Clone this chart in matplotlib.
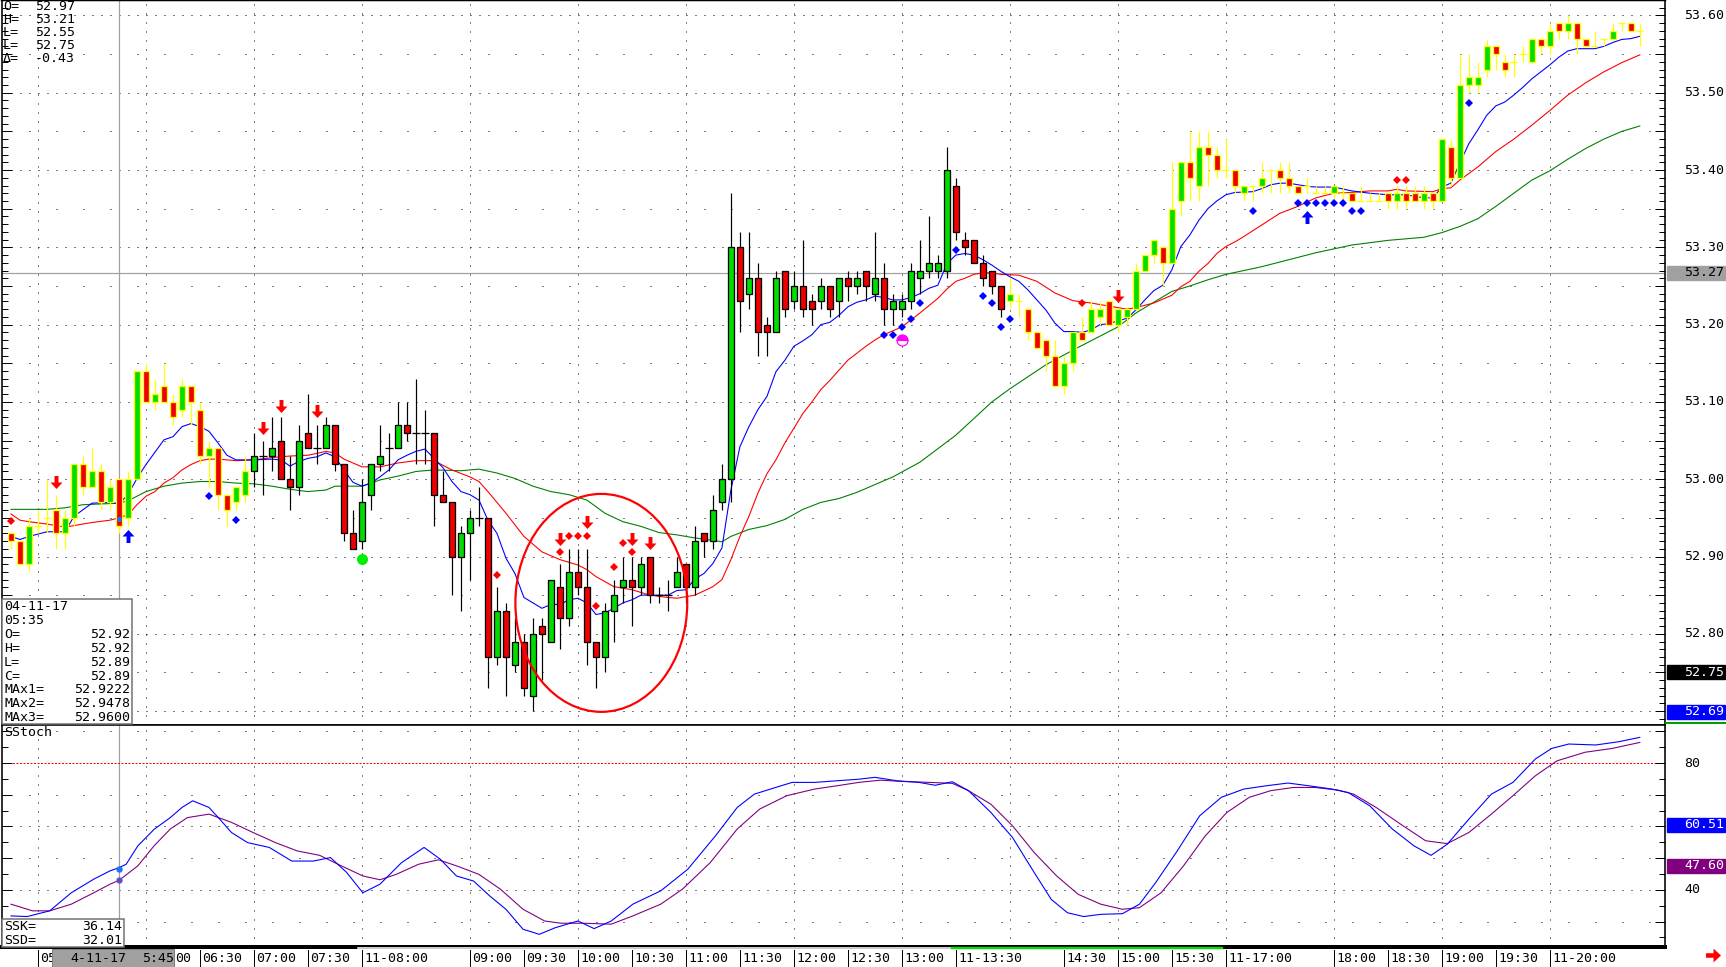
import matplotlib
matplotlib.use("Agg")
import matplotlib.pyplot as plt
import numpy as np
from matplotlib.lines import Line2D
from matplotlib.patches import Ellipse, Rectangle
from matplotlib.path import Path
from matplotlib.transforms import blended_transform_factory

W, H, DPI = 1726, 967, 100
PX = 72.0 / DPI          # one screen pixel in points
FONT = "DejaVu Sans Mono"
FS = 9.5

C_UP = "#00dd00"
C_DN = "#ee0000"
C_PAINT = "#ffff00"
C_FAST = "#0000ff"
C_MID = "#ff0000"
C_SLOW = "#008000"
C_SSD = "#800080"
C_CROSS = "#a0a0a0"

# 5-minute bars, bar 0 = 05:00 (the 16:00-17:00 halt has no bars)
first_bar = -3
opens = [
    52.93, 52.92, 52.89, 52.94, 52.95, 52.96, 52.93, 52.95, 53.02, 52.99,   # -3
    53.01, 52.97, 53.00, 52.95, 53.00, 53.14, 53.10, 53.12, 53.10, 53.09,   # 7
    53.12, 53.09, 53.03, 53.04, 52.98, 52.97, 52.98, 53.01, 53.03, 53.03,   # 17
    53.05, 53.00, 52.99, 53.06, 53.04, 53.04, 53.07, 53.02, 52.93, 52.92,   # 27
    52.98, 53.02, 53.04, 53.04, 53.07, 53.06, 53.06, 53.06, 52.98, 52.97,   # 37
    52.90, 52.93, 52.95, 52.95, 52.77, 52.83, 52.76, 52.79, 52.72, 52.81,   # 47
    52.79, 52.86, 52.82, 52.88, 52.86, 52.79, 52.77, 52.83, 52.86, 52.87,   # 57
    52.86, 52.90, 52.85, 52.85, 52.86, 52.89, 52.86, 52.93, 52.92, 52.97,   # 67
    53.00, 53.30, 53.24, 53.26, 53.20, 53.19, 53.27, 53.23, 53.25, 53.23,   # 77
    53.23, 53.25, 53.23, 53.26, 53.25, 53.27, 53.24, 53.26, 53.22, 53.22,   # 87
    53.23, 53.26, 53.27, 53.27, 53.27, 53.38, 53.31, 53.31, 53.28, 53.27,   # 97
    53.25, 53.23, 53.23, 53.22, 53.19, 53.18, 53.16, 53.12, 53.15, 53.19,   # 107
    53.19, 53.21, 53.23, 53.20, 53.21, 53.22, 53.27, 53.29, 53.30, 53.28,   # 117
    53.36, 53.41, 53.38, 53.43, 53.42, 53.40, 53.40, 53.37, 53.38, 53.38,   # 127
    53.40, 53.40, 53.39, 53.38, 53.38, 53.37, 53.37, 53.37, 53.37, 53.37,   # 137
    53.36, 53.36, 53.36, 53.37, 53.36, 53.37, 53.37, 53.36, 53.37, 53.36,   # 147
    53.43, 53.39, 53.51, 53.51, 53.53, 53.56, 53.54, 53.54, 53.55, 53.54,   # 157
    53.57, 53.56, 53.59, 53.58, 53.59, 53.57, 53.56, 53.57, 53.57, 53.59,   # 167
    53.59, 53.58,                                                           # 177
]
highs = [
    52.93, 52.92, 52.95, 52.96, 53.00, 52.98, 52.96, 53.02, 53.03, 53.04,
    53.02, 53.00, 53.00, 53.01, 53.14, 53.15, 53.13, 53.15, 53.11, 53.13,
    53.12, 53.10, 53.05, 53.04, 52.98, 52.99, 53.03, 53.06, 53.05, 53.08,
    53.08, 53.03, 53.07, 53.11, 53.07, 53.08, 53.07, 53.02, 52.96, 53.00,
    53.02, 53.07, 53.06, 53.10, 53.10, 53.13, 53.09, 53.06, 53.01, 52.97,
    52.94, 52.96, 52.99, 52.95, 52.86, 52.84, 52.82, 52.80, 52.82, 52.82,
    52.87, 52.89, 52.91, 52.91, 52.91, 52.79, 52.84, 52.87, 52.90, 52.90,
    52.90, 52.90, 52.86, 52.87, 52.90, 52.89, 52.94, 52.93, 52.98, 53.02,
    53.37, 53.32, 53.32, 53.28, 53.21, 53.27, 53.27, 53.27, 53.31, 53.24,
    53.26, 53.25, 53.26, 53.27, 53.27, 53.27, 53.32, 53.28, 53.24, 53.24,
    53.28, 53.31, 53.34, 53.29, 53.43, 53.39, 53.32, 53.31, 53.29, 53.27,
    53.25, 53.26, 53.24, 53.22, 53.19, 53.18, 53.18, 53.16, 53.19, 53.21,
    53.23, 53.23, 53.23, 53.22, 53.22, 53.28, 53.29, 53.31, 53.30, 53.41,
    53.41, 53.45, 53.45, 53.45, 53.43, 53.44, 53.40, 53.38, 53.38, 53.41,
    53.40, 53.41, 53.41, 53.38, 53.39, 53.38, 53.38, 53.38, 53.38, 53.37,
    53.38, 53.37, 53.37, 53.37, 53.38, 53.38, 53.38, 53.38, 53.37, 53.44,
    53.44, 53.55, 53.55, 53.54, 53.57, 53.56, 53.55, 53.55, 53.56, 53.57,
    53.57, 53.59, 53.59, 53.60, 53.59, 53.57, 53.58, 53.57, 53.59, 53.59,
    53.59, 53.59,
]
lows = [
    52.91, 52.89, 52.88, 52.93, 52.93, 52.91, 52.91, 52.94, 52.98, 52.99,
    52.96, 52.96, 52.93, 52.94, 53.00, 53.10, 53.09, 53.10, 53.07, 53.08,
    53.07, 53.02, 52.99, 52.96, 52.94, 52.96, 52.97, 52.99, 52.98, 53.01,
    53.00, 52.96, 52.98, 53.04, 53.02, 53.04, 53.01, 52.92, 52.91, 52.91,
    52.96, 53.01, 53.01, 53.04, 53.05, 53.02, 53.02, 52.94, 52.97, 52.85,
    52.83, 52.87, 52.94, 52.73, 52.76, 52.72, 52.75, 52.72, 52.70, 52.74,
    52.79, 52.78, 52.81, 52.85, 52.76, 52.73, 52.75, 52.79, 52.84, 52.81,
    52.85, 52.84, 52.84, 52.83, 52.86, 52.84, 52.85, 52.90, 52.91, 52.96,
    52.97, 53.19, 53.22, 53.16, 53.16, 53.19, 53.21, 53.22, 53.21, 53.20,
    53.22, 53.21, 53.21, 53.23, 53.24, 53.23, 53.23, 53.20, 53.20, 53.21,
    53.22, 53.24, 53.26, 53.26, 53.26, 53.31, 53.29, 53.28, 53.25, 53.24,
    53.21, 53.22, 53.21, 53.18, 53.17, 53.14, 53.12, 53.11, 53.14, 53.18,
    53.19, 53.20, 53.20, 53.19, 53.20, 53.22, 53.27, 53.28, 53.25, 53.28,
    53.34, 53.36, 53.36, 53.38, 53.39, 53.39, 53.37, 53.36, 53.36, 53.37,
    53.37, 53.37, 53.37, 53.37, 53.37, 53.37, 53.37, 53.36, 53.36, 53.36,
    53.36, 53.36, 53.36, 53.35, 53.35, 53.35, 53.36, 53.35, 53.35, 53.36,
    53.38, 53.39, 53.50, 53.50, 53.52, 53.53, 53.52, 53.52, 53.54, 53.54,
    53.55, 53.55, 53.57, 53.57, 53.55, 53.56, 53.56, 53.56, 53.57, 53.58,
    53.58, 53.56,
]
closes = [
    52.92, 52.89, 52.94, 52.94, 52.95, 52.93, 52.95, 53.02, 52.99, 53.01,
    52.97, 52.99, 52.94, 53.00, 53.14, 53.10, 53.11, 53.10, 53.08, 53.12,
    53.10, 53.03, 53.04, 52.98, 52.96, 52.99, 53.01, 53.03, 53.03, 53.04,
    53.00, 52.99, 53.05, 53.04, 53.04, 53.07, 53.02, 52.93, 52.91, 52.97,
    53.02, 53.03, 53.04, 53.07, 53.06, 53.06, 53.06, 52.98, 52.97, 52.90,
    52.93, 52.95, 52.95, 52.77, 52.83, 52.77, 52.79, 52.73, 52.80, 52.80,
    52.87, 52.82, 52.88, 52.86, 52.79, 52.77, 52.83, 52.85, 52.87, 52.86,
    52.89, 52.85, 52.85, 52.85, 52.88, 52.86, 52.92, 52.92, 52.96, 53.00,
    53.30, 53.23, 53.26, 53.19, 53.19, 53.26, 53.22, 53.25, 53.22, 53.22,
    53.25, 53.22, 53.26, 53.25, 53.26, 53.25, 53.26, 53.22, 53.23, 53.23,
    53.27, 53.27, 53.28, 53.28, 53.40, 53.32, 53.30, 53.28, 53.26, 53.25,
    53.22, 53.24, 53.23, 53.19, 53.17, 53.16, 53.12, 53.15, 53.19, 53.18,
    53.22, 53.22, 53.20, 53.22, 53.22, 53.27, 53.29, 53.31, 53.28, 53.35,
    53.41, 53.39, 53.43, 53.42, 53.40, 53.40, 53.38, 53.38, 53.38, 53.39,
    53.40, 53.39, 53.38, 53.37, 53.38, 53.37, 53.37, 53.38, 53.37, 53.36,
    53.36, 53.36, 53.36, 53.36, 53.37, 53.36, 53.36, 53.37, 53.36, 53.44,
    53.39, 53.51, 53.52, 53.52, 53.56, 53.55, 53.53, 53.54, 53.55, 53.57,
    53.56, 53.58, 53.58, 53.59, 53.57, 53.56, 53.56, 53.57, 53.58, 53.59,
    53.58, 53.58,
]
paint_bars = [(-3, 23), (108, 178)]   # bars painted with yellow outline

ma_fast = [(-3, 52.926), (-2, 52.922), (-1, 52.926), (1, 52.932), (3, 52.932), (4, 52.952), (6, 52.969), (8, 52.970), (9, 52.968), (10, 52.980), (11, 53.001), (12, 53.019), (14, 53.051), (15, 53.055), (16, 53.068), (17, 53.072), (18, 53.068), (19, 53.062), (20, 53.047), (21, 53.031), (22, 53.025), (24, 53.025), (26, 53.026), (27, 53.025), (28, 53.017), (29, 53.023), (30, 53.027), (31, 53.029), (32, 53.034), (33, 53.029), (34, 53.012), (35, 52.996), (36, 52.991), (37, 52.995), (38, 53.003), (39, 53.012), (40, 53.025), (41, 53.031), (42, 53.036), (43, 53.039), (44, 53.027), (45, 53.015), (46, 52.997), (47, 52.984), (48, 52.980), (49, 52.973), (50, 52.947), (51, 52.930), (52, 52.898), (53, 52.878), (54, 52.847), (55, 52.840), (56, 52.833), (57, 52.838), (58, 52.838), (59, 52.844), (60, 52.846), (61, 52.840), (62, 52.825), (63, 52.827), (64, 52.833), (65, 52.840), (66, 52.844), (67, 52.850), (68, 52.850), (70, 52.850), (71, 52.856), (72, 52.857), (73, 52.871), (74, 52.878), (75, 52.891), (76, 52.911), (77, 52.986), (78, 53.042), (79, 53.068), (80, 53.090), (81, 53.107), (82, 53.139), (83, 53.154), (84, 53.172), (85, 53.179), (86, 53.187), (87, 53.200), (88, 53.203), (89, 53.212), (90, 53.223), (91, 53.229), (92, 53.232), (93, 53.237), (94, 53.235), (95, 53.232), (96, 53.232), (97, 53.235), (98, 53.240), (99, 53.247), (100, 53.251), (101, 53.279), (102, 53.290), (103, 53.292), (104, 53.290), (105, 53.284), (106, 53.277), (107, 53.269), (108, 53.262), (109, 53.256), (110, 53.245), (111, 53.232), (112, 53.219), (113, 53.202), (114, 53.191), (115, 53.191), (116, 53.190), (117, 53.193), (118, 53.200), (119, 53.201), (120, 53.205), (121, 53.208), (122, 53.219), (123, 53.232), (124, 53.244), (125, 53.251), (126, 53.271), (127, 53.301), (128, 53.316), (129, 53.335), (130, 53.350), (131, 53.360), (132, 53.368), (133, 53.371), (135, 53.372), (136, 53.376), (137, 53.381), (138, 53.383), (139, 53.383), (140, 53.381), (141, 53.379), (142, 53.378), (144, 53.378), (146, 53.373), (148, 53.370), (150, 53.368), (152, 53.368), (154, 53.364), (155, 53.364), (156, 53.378), (157, 53.383), (158, 53.409), (159, 53.434), (160, 53.452), (161, 53.471), (162, 53.483), (163, 53.488), (164, 53.497), (165, 53.507), (166, 53.518), (167, 53.527), (168, 53.536), (169, 53.546), (170, 53.554), (171, 53.557), (173, 53.557), (174, 53.560), (175, 53.565), (176, 53.569), (177, 53.570), (178, 53.573)]
ma_mid = [(-3, 52.955), (-2, 52.947), (-1, 52.945), (1, 52.942), (3, 52.938), (4, 52.940), (6, 52.944), (8, 52.947), (9, 52.950), (10, 52.954), (11, 52.967), (12, 52.978), (13, 52.984), (14, 52.995), (15, 53.002), (16, 53.012), (17, 53.019), (18, 53.024), (19, 53.026), (20, 53.026), (22, 53.024), (24, 53.025), (26, 53.028), (28, 53.030), (30, 53.031), (32, 53.036), (33, 53.034), (34, 53.026), (35, 53.021), (36, 53.016), (38, 53.016), (40, 53.021), (42, 53.024), (44, 53.024), (45, 53.018), (46, 53.012), (48, 53.003), (49, 52.997), (50, 52.984), (52, 52.956), (54, 52.926), (56, 52.906), (58, 52.896), (60, 52.889), (61, 52.883), (62, 52.874), (64, 52.861), (66, 52.857), (68, 52.850), (70, 52.847), (71, 52.846), (73, 52.850), (75, 52.861), (76, 52.870), (77, 52.896), (78, 52.926), (79, 52.952), (80, 52.982), (81, 53.007), (82, 53.025), (83, 53.047), (84, 53.066), (85, 53.085), (86, 53.100), (87, 53.116), (88, 53.128), (89, 53.141), (90, 53.154), (91, 53.163), (92, 53.172), (93, 53.180), (94, 53.187), (96, 53.197), (98, 53.215), (100, 53.234), (101, 53.246), (102, 53.256), (103, 53.260), (104, 53.265), (105, 53.267), (106, 53.267), (107, 53.265), (109, 53.264), (111, 53.256), (113, 53.241), (115, 53.231), (117, 53.228), (119, 53.224), (121, 53.220), (122, 53.222), (124, 53.228), (125, 53.233), (126, 53.238), (127, 53.249), (128, 53.256), (129, 53.269), (130, 53.279), (131, 53.292), (132, 53.301), (133, 53.307), (134, 53.314), (136, 53.329), (138, 53.344), (140, 53.353), (142, 53.364), (144, 53.370), (146, 53.371), (148, 53.373), (150, 53.373), (151, 53.375), (152, 53.373), (155, 53.372), (156, 53.376), (157, 53.377), (158, 53.387), (160, 53.404), (162, 53.424), (164, 53.440), (166, 53.458), (168, 53.477), (170, 53.497), (172, 53.513), (174, 53.527), (176, 53.539), (178, 53.549)]
ma_slow = [(-3, 52.961), (1, 52.961), (3, 52.963), (5, 52.967), (7, 52.968), (9, 52.969), (10, 52.972), (12, 52.984), (14, 52.991), (16, 52.995), (18, 52.997), (20, 52.997), (22, 52.995), (24, 52.994), (26, 52.991), (28, 52.987), (30, 52.984), (32, 52.986), (33, 52.991), (36, 52.991), (38, 52.999), (40, 53.004), (42, 53.010), (44, 53.012), (47, 53.011), (49, 53.013), (51, 53.008), (53, 53.001), (55, 52.991), (57, 52.984), (59, 52.980), (61, 52.973), (63, 52.956), (65, 52.945), (67, 52.939), (69, 52.931), (71, 52.928), (73, 52.924), (75, 52.921), (76, 52.919), (77, 52.926), (79, 52.935), (81, 52.940), (83, 52.948), (85, 52.961), (87, 52.970), (89, 52.975), (91, 52.983), (93, 52.993), (95, 53.003), (98, 53.022), (102, 53.057), (106, 53.100), (108, 53.117), (112, 53.148), (115, 53.167), (118, 53.185), (120, 53.197), (122, 53.215), (124, 53.229), (126, 53.243), (128, 53.250), (130, 53.258), (132, 53.265), (134, 53.270), (136, 53.275), (138, 53.281), (140, 53.287), (142, 53.293), (146, 53.303), (150, 53.309), (154, 53.313), (156, 53.319), (158, 53.327), (160, 53.337), (162, 53.353), (164, 53.370), (166, 53.387), (168, 53.399), (170, 53.414), (172, 53.428), (174, 53.440), (176, 53.450), (178, 53.457)]

ssk = [(-3.0, 31.8), (-1.2, 31.6), (1.3, 33.4), (3.7, 39.1), (6.2, 43.4), (8.0, 46.0), (9.0, 47.0), (9.8, 48.1), (11.1, 53.9), (12.9, 59.1), (14.7, 62.8), (16.0, 66.0), (17.2, 68.1), (19.0, 66.0), (20.2, 62.3), (21.5, 58.1), (23.3, 54.9), (25.7, 53.4), (28.2, 49.1), (30.6, 49.1), (32.5, 50.2), (34.3, 45.5), (36.1, 39.1), (38.0, 41.8), (40.4, 48.6), (42.9, 53.4), (44.7, 49.7), (46.5, 44.4), (48.4, 42.8), (50.2, 38.1), (52.0, 33.9), (53.9, 27.6), (55.7, 26.0), (57.5, 28.1), (60.0, 30.2), (61.8, 27.8), (63.7, 30.2), (66.1, 35.5), (69.2, 39.7), (72.2, 46.5), (75.3, 57.1), (77.7, 66.0), (79.6, 70.2), (81.4, 71.8), (83.8, 73.9), (86.3, 73.9), (88.7, 74.4), (91.2, 74.9), (93.0, 75.5), (95.5, 74.4), (97.9, 73.9), (99.7, 73.0), (101.6, 74.1), (103.4, 71.3), (105.9, 64.4), (108.3, 56.5), (110.7, 45.5), (112.6, 37.0), (114.4, 32.8), (116.2, 31.6), (118.1, 32.3), (120.5, 32.5), (122.4, 35.5), (124.2, 42.3), (126.6, 52.3), (129.1, 63.4), (131.5, 69.2), (134.0, 71.8), (136.4, 72.8), (138.9, 73.7), (141.3, 72.8), (143.8, 71.8), (145.6, 70.7), (148.0, 66.5), (150.5, 59.2), (152.9, 53.9), (154.8, 50.9), (156.6, 54.4), (159.0, 62.3), (161.5, 70.2), (163.9, 73.9), (166.4, 81.3), (168.2, 84.6), (170.1, 86.0), (173.1, 85.7), (175.6, 86.7), (178.0, 88.1)]
ssd = [(-3.0, 35.5), (-0.6, 33.4), (1.3, 33.4), (3.7, 35.5), (6.2, 39.1), (8.0, 41.8), (9.0, 43.0), (11.1, 47.6), (12.9, 53.9), (14.7, 59.2), (16.6, 62.8), (19.0, 63.9), (21.5, 61.3), (23.9, 58.1), (26.4, 54.9), (28.8, 52.3), (31.3, 50.9), (33.7, 47.6), (36.1, 44.4), (38.0, 43.2), (39.8, 44.9), (42.3, 48.1), (44.5, 49.5), (46.5, 47.6), (49.0, 44.9), (51.4, 40.2), (53.9, 33.9), (56.3, 30.2), (58.1, 29.5), (60.6, 29.5), (63.7, 29.2), (66.1, 31.8), (69.2, 35.5), (71.6, 40.2), (74.7, 48.6), (77.7, 59.2), (80.2, 65.5), (83.2, 69.7), (86.3, 71.8), (88.7, 72.8), (91.2, 73.9), (93.6, 74.6), (96.1, 74.2), (99.1, 73.9), (101.6, 73.6), (103.4, 71.3), (105.9, 67.0), (108.3, 60.2), (110.7, 51.8), (113.2, 44.4), (115.6, 38.6), (118.1, 35.5), (120.5, 33.9), (122.4, 34.4), (124.8, 39.1), (127.3, 47.6), (129.7, 57.0), (132.1, 64.4), (134.6, 69.2), (137.0, 71.3), (139.5, 72.3), (141.9, 72.3), (144.4, 71.5), (146.2, 70.2), (148.7, 66.0), (151.7, 60.2), (154.2, 55.5), (156.6, 54.6), (159.0, 58.1), (161.5, 63.9), (163.9, 69.7), (166.4, 76.0), (168.8, 80.7), (171.9, 83.4), (174.9, 84.6), (178.0, 86.5)]

red_arrows = [(2, 52.997), (25, 53.066), (27, 53.095), (31, 53.088), (58, 52.923), (61, 52.944), (66, 52.923), (68, 52.917), (120, 53.237)]
blue_arrows = [(10, 52.926), (141, 53.339)]
red_dots = [(-3, 52.946), (51, 52.876), (58, 52.906), (59, 52.927), (60, 52.927), (61, 52.927), (62, 52.836), (64, 52.887), (65, 52.917), (66, 52.906), (116, 53.228), (151, 53.387), (152, 53.387)]
blue_dots = [(19, 52.978), (22, 52.947), (94, 53.187), (95, 53.187), (96, 53.197), (97, 53.207), (98, 53.228), (102, 53.297), (105, 53.237), (106, 53.228), (107, 53.197), (108, 53.207), (135, 53.347), (140, 53.358), (141, 53.358), (142, 53.358), (143, 53.358), (144, 53.358), (145, 53.358), (146, 53.347), (147, 53.347), (159, 53.487)]
green_dot = (36, 52.897)
pink_dot = (96, 53.180)
circle_center = (62.6, 52.840)
circle_size = (19.1, 0.282)

cross_bar = 9
cross_price = 53.267
cross_ssk, cross_ssd = 46.5, 43.0

# the first two labels are mostly hidden under the cursor date box
time_labels = [(0, "05"), (12, "06:00"), (18, "06:30"), (24, "07:00"), (30, "07:30"), (36, "11-08:00"),
               (48, "09:00"), (54, "09:30"), (60, "10:00"), (66, "10:30"), (72, "11:00"), (78, "11:30"),
               (84, "12:00"), (90, "12:30"), (96, "13:00"), (102, "11-13:30"), (114, "14:30"), (120, "15:00"),
               (126, "15:30"), (132, "11-17:00"), (144, "18:00"), (150, "18:30"), (156, "19:00"),
               (162, "19:30"), (168, "11-20:00")]
hour_bars = [0, 12, 24, 36, 48, 60, 72, 84, 96, 108, 120, 132, 144, 156, 168]

info_top = [("O=", "52.97"), ("H=", "53.21"), ("L=", "52.55"), ("L=", "52.75"), ("\u0394=", "-0.43")]
info_bar_head = ["04-11-17", "05:35"]
info_bar = [("O=", "52.92"), ("H=", "52.92"), ("L=", "52.89"), ("C=", "52.89"),
            ("MAx1=", "52.9222"), ("MAx2=", "52.9478"), ("MAx3=", "52.9600")]
info_stoch = [("SSK=", "36.14"), ("SSD=", "32.01")]
price_boxes = [(53.267, "53.27", "#a0a0a0", "black"), (52.75, "52.75", "black", "white"),
               (52.699, "52.69", "#0000ff", "white")]
stoch_boxes = [(60.51, "60.51", "#0000ff", "white"), (47.60, "47.60", C_SSD, "white")]

# ---------------------------------------------------------------------------
fig = plt.figure(figsize=(W / DPI, H / DPI), dpi=DPI, facecolor="white")


def fig_text(x, y, s, **kw):
    kw.setdefault("family", FONT)
    kw.setdefault("fontsize", FS)
    fig.text(x / W, 1 - y / H, s, va="center", **kw)


def fig_line(x0, y0, x1, y1, **kw):
    fig.add_artist(Line2D([x0 / W, x1 / W], [1 - y0 / H, 1 - y1 / H],
                          transform=fig.transFigure, **kw))


def fig_box(x0, y0, x1, y1, **kw):
    fig.add_artist(Rectangle((x0 / W, 1 - y1 / H), (x1 - x0) / W, (y1 - y0) / H,
                             transform=fig.transFigure, **kw))


ax = fig.add_axes([2 / W, 1 - 725 / H, 1663 / W, 725 / H])
axs = fig.add_axes([2 / W, 1 - 947 / H, 1663 / W, 222 / H])
ax.set_ylim(52.682, 53.620)
axs.set_ylim(22.0, 92.0)
for a in (ax, axs):
    a.set_xlim(-4.0, 180.8)
    a.set_xticks([])
    for sp in a.spines.values():
        sp.set_linewidth(1.6 * PX)
ax.spines["top"].set_linewidth(2.5 * PX)
axs.spines["bottom"].set_linewidth(4 * PX)

dense = (0, (1, 8))
sparse = (0, (1, 26))
grid_kw = dict(color="black", lw=PX, zorder=0.5)
for p in np.round(np.arange(52.70, 53.61, 0.10), 2):
    ax.axhline(p, ls=dense, **grid_kw)
for p in np.round(np.arange(52.75, 53.60, 0.10), 2):
    ax.axhline(p, ls=sparse, **grid_kw)
for v in (40, 60):
    axs.axhline(v, ls=dense, **grid_kw)
for v in (30, 50, 70, 90):
    axs.axhline(v, ls=sparse, **grid_kw)
for b in hour_bars:
    ax.axvline(b, ls=dense, **grid_kw)
    axs.axvline(b, ls=dense, **grid_kw)

ax.set_yticks(np.round(np.arange(52.70, 53.61, 0.05), 2))
ax.set_yticks(np.round(np.arange(52.69, 53.62, 0.01), 2), minor=True)
axs.set_yticks(np.arange(30, 91, 10))
axs.set_yticks(np.arange(25, 92, 5), minor=True)
for a in (ax, axs):
    a.tick_params(axis="y", which="both", direction="in", left=True, right=True,
                  labelleft=False, labelright=False, width=PX, color="black")
    a.tick_params(axis="y", which="major", length=7)
    a.tick_params(axis="y", which="minor", length=4)

# crosshair
for a in (ax, axs):
    a.axvline(cross_bar, color=C_CROSS, lw=1.2 * PX, zorder=1)
ax.axhline(cross_price, color=C_CROSS, lw=1.2 * PX, zorder=1)

# moving averages
for pts, col in ((ma_slow, C_SLOW), (ma_mid, C_MID), (ma_fast, C_FAST)):
    arr = np.array(pts)
    ax.plot(arr[:, 0], arr[:, 1], color=col, lw=1.1 * PX, zorder=2)

# candles
idx = np.arange(first_bar, first_bar + len(opens))
o, hi, lo, c = (np.array(v) for v in (opens, highs, lows, closes))
painted = np.zeros(len(idx), bool)
for a0, a1 in paint_bars:
    painted |= (idx >= a0) & (idx <= a1)
edge = np.where(painted, C_PAINT, "black")
ax.vlines(idx, lo, hi, colors=list(edge), lw=1.2 * PX, zorder=3)
up = c > o + 1e-9
dn = c < o - 1e-9
flat = ~(up | dn)
for m, col in ((up, C_UP), (dn, C_DN)):
    ax.bar(idx[m], np.abs(c - o)[m], bottom=np.minimum(o, c)[m], width=0.62,
           color=col, edgecolor=list(edge[m]), linewidth=1.3 * PX, zorder=4)
ax.hlines(o[flat], idx[flat] - 0.4, idx[flat] + 0.4, colors=list(edge[flat]),
          lw=1.3 * PX, zorder=4)

# signal markers
arrow_dn = Path([(-0.15, 0.5), (0.15, 0.5), (0.15, 0.0), (0.46, 0.0), (0, -0.5),
                 (-0.46, 0.0), (-0.15, 0.0), (-0.15, 0.5)], closed=True)
arrow_up = Path([(x, -y) for x, y in arrow_dn.vertices], closed=True)
arrow_rt = Path([(-y, x) for x, y in arrow_dn.vertices], closed=True)


def scatter(pts, **kw):
    arr = np.array(pts, dtype=float).reshape(-1, 2)
    ax.plot(arr[:, 0], arr[:, 1], ls="none", zorder=5, **kw)


scatter(red_arrows, marker=arrow_dn, ms=13 * PX, color="#ff0000", mew=0)
scatter(blue_arrows, marker=arrow_up, ms=13 * PX, color="#0000ff", mew=0)
scatter(red_dots, marker="D", ms=6.2 * PX, color="#ff0000", mew=0)
scatter(blue_dots, marker="D", ms=6.2 * PX, color="#0000ff", mew=0)
scatter([green_dot], marker="o", ms=11 * PX, color="#00ee00", mew=0)
scatter([pink_dot], marker="o", ms=11 * PX, fillstyle="top", markerfacecolor="#ff00ff",
        markerfacecoloralt="white", markeredgecolor="#ff00ff", mew=1.2 * PX)
scatter([(cross_bar, 52.949)], marker="o", ms=5 * PX, color="#2070ff", mew=0)

ax.add_patch(Ellipse(circle_center, circle_size[0], circle_size[1], fill=False,
                     edgecolor="#ff0000", lw=2.2 * PX, zorder=6))

# stochastic panel
axs.axhline(80, color="#ff0000", lw=PX, ls=(0, (2, 1.5)), zorder=1)
for pts, col in ((ssd, C_SSD), (ssk, C_FAST)):
    arr = np.array(pts)
    axs.plot(arr[:, 0], arr[:, 1], color=col, lw=1.1 * PX, zorder=3)
axs.plot([cross_bar], [cross_ssk], "o", ms=5 * PX, color="#2070ff", zorder=4)
axs.plot([cross_bar], [cross_ssd], "o", ms=5 * PX, mfc="#d02060", mec="#2070ff", zorder=4)


# right-hand scale
def value_labels(a, values, fmt):
    tr = blended_transform_factory(fig.transFigure, a.transData)
    for v in values:
        a.text(1684 / W, v, fmt.format(v), transform=tr, ha="left", va="center",
               family=FONT, fontsize=FS, clip_on=False)


def value_box(a, v, s, bg, fg):
    ylo, yhi = a.get_ylim()
    upp = (yhi - ylo) / (a.get_position().height * H)
    tr = blended_transform_factory(fig.transFigure, a.transData)
    a.add_patch(Rectangle((1667 / W, v - 7 * upp), 58 / W, 14 * upp, transform=tr,
                          facecolor=bg, edgecolor=bg, clip_on=False, zorder=10))
    a.text(1684 / W, v, s, transform=tr, ha="left", va="center", color=fg,
           family=FONT, fontsize=FS, clip_on=False, zorder=11)


value_labels(ax, np.round(np.arange(52.80, 53.61, 0.10), 2), "{:.2f}")
value_labels(axs, [80, 40], "{:.0f}")
for v, s, bg, fg in price_boxes:
    value_box(ax, v, s, bg, fg)
for v, s, bg, fg in stoch_boxes:
    value_box(axs, v, s, bg, fg)
fig_line(1666, 723, 1726, 723, color="#00a000", lw=2 * PX)
fig.add_artist(Line2D([1713 / W], [1 - 955 / H], marker=arrow_rt, ms=15 * PX,
                      color="#ff0000", mew=0, transform=fig.transFigure))

# info read-outs
for k, (lab, val) in enumerate(info_top):
    y = 6 + 13.2 * k
    fig_text(3, y, lab)
    fig_text(75, y, val, ha="right")

fig_box(2, 599, 132, 724, facecolor="white", edgecolor="#707070", lw=1.5 * PX, zorder=4)
for k, s in enumerate(info_bar_head):
    fig_text(4, 607 + 13.8 * k, s, zorder=5)
for k, (lab, val) in enumerate(info_bar):
    y = 607 + 13.8 * (k + 2)
    fig_text(4, y, lab, zorder=5)
    fig_text(130, y, val, ha="right", zorder=5)

fig_text(4, 733, "SStoch")
fig_box(2, 919, 124, 947, facecolor="white", edgecolor="#707070", lw=1.5 * PX, zorder=4)
for k, (lab, val) in enumerate(info_stoch):
    y = 926 + 14 * k
    fig_text(4, y, lab, zorder=5)
    fig_text(122, y, val, ha="right", zorder=5)

# session strip and time scale
fig_line(358, 948, 952, 948, color="white", lw=1.6 * PX, zorder=4)
fig_line(952, 948, 1222, 948, color="#00e000", lw=2.4 * PX, zorder=4)
fig_box(52, 949, 174, 967, facecolor="#a0a0a0", edgecolor="#808080", lw=PX, zorder=4)
fig_text(70, 958, "4-11-17", zorder=5)
fig_text(142, 958, "5:45", zorder=5)
for b, s in time_labels:
    x = 38 + 9 * b
    if x > 52 and x < 174:
        # only the tail of this label shows to the right of the date box
        fig_text(175, 958, s[-2:])
        continue
    fig_line(x, 950, x, 966, color="black", lw=PX)
    fig_text(x + 2, 958, s)

fig.savefig("out.png", dpi=DPI, facecolor="white")
